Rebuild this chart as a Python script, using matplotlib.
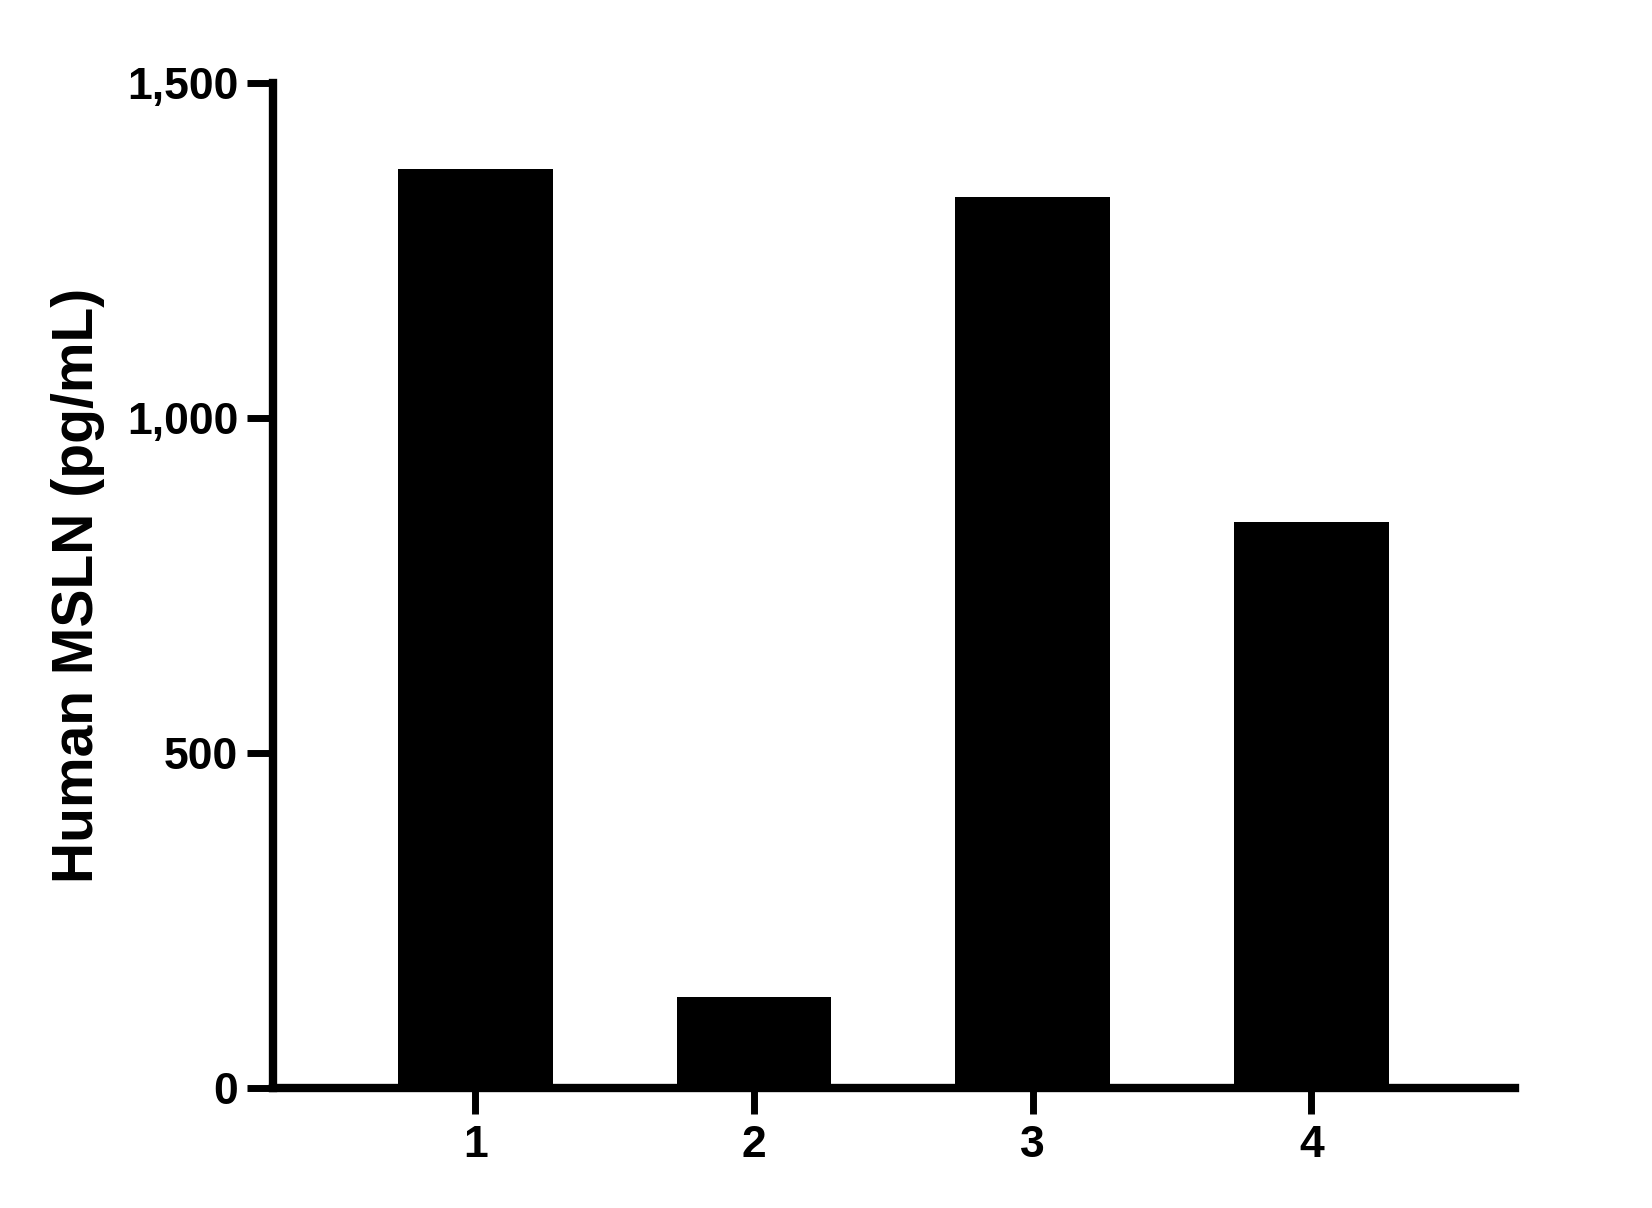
import matplotlib
matplotlib.use("Agg")
import matplotlib.pyplot as plt

categories = ["1", "2", "3", "4"]
values = [1372, 136, 1331, 845]
yticks = [0, 500, 1000, 1500]
ytick_labels = ["0", "500", "1,000", "1,500"]
ylabel = "Human MSLN (pg/mL)"

plt.rcParams['font.family'] = ['Liberation Sans', 'DejaVu Sans']
plt.rcParams['font.weight'] = 'bold'

fig = plt.figure(figsize=(16.52, 12.08), dpi=100)
ax = fig.add_axes([0.1653, 0.0997, 0.917 - 0.1653, 0.9309 - 0.0997])

x = list(range(1, len(categories) + 1))
ax.bar(x, values, width=0.555, color='black', zorder=1)

ax.set_xlim(0.274, 4.73)
ax.set_ylim(0, 1500)
ax.set_xticks(x)
ax.set_xticklabels(categories)
ax.set_yticks(yticks)
ax.set_yticklabels(ytick_labels)

for s in ['top', 'right']:
    ax.spines[s].set_visible(False)
for s in ['left', 'bottom']:
    ax.spines[s].set_linewidth(6)
    ax.spines[s].set_capstyle('projecting')
    ax.spines[s].set_zorder(3)

ax.tick_params(axis='both', length=19, width=5, direction='out', labelsize=32, pad=6)
ax.tick_params(axis='x', pad=8)
for lbl in ax.get_xticklabels() + ax.get_yticklabels():
    lbl.set_fontweight('bold')

ax.set_ylabel(ylabel, fontsize=41, fontweight='bold', labelpad=16)

fig.savefig("out.png", dpi=100, facecolor='white')
